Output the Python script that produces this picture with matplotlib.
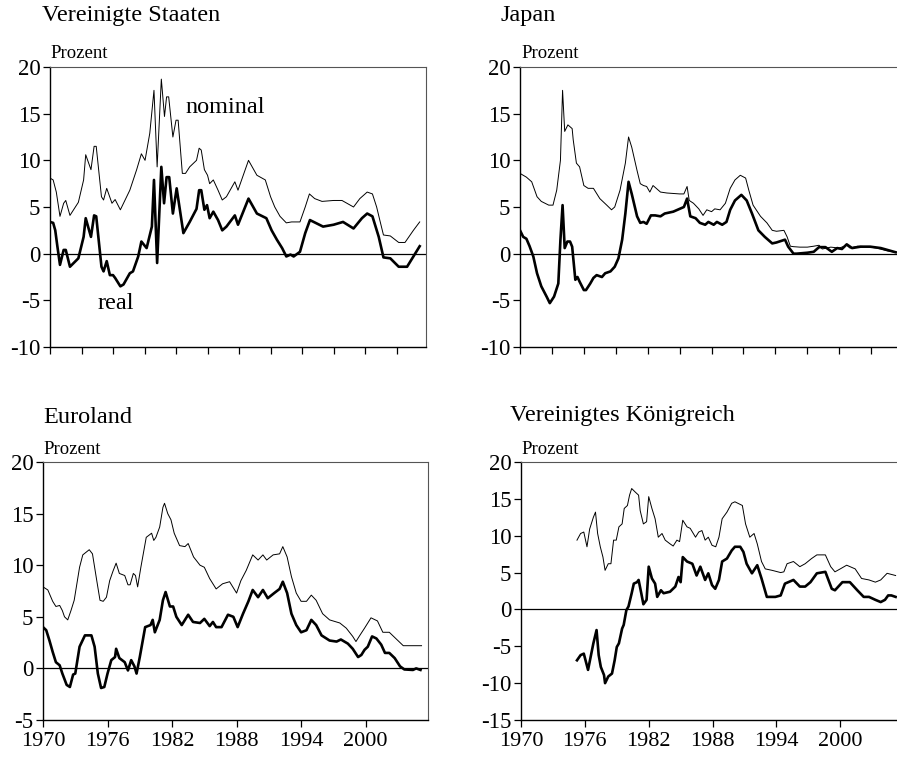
import matplotlib
matplotlib.use("Agg")
import matplotlib.pyplot as plt

plt.rcParams['font.family'] = ['Liberation Serif', 'DejaVu Serif']

# Vereinigte Staaten
us_nom_t = [1970.0, 1970.3, 1970.6, 1970.95, 1971.3, 1971.5, 1971.9, 1972.7, 1973.2, 1973.4, 1973.9,
            1974.2, 1974.4, 1974.9, 1975.1, 1975.4, 1975.9, 1976.2, 1976.7, 1977.6, 1978.25, 1978.7,
            1979.05, 1979.5, 1979.9, 1980.2, 1980.6, 1980.9, 1981.1, 1981.3, 1981.7, 1982.0, 1982.2,
            1982.6, 1982.9, 1983.3, 1983.95, 1984.2, 1984.4, 1984.7, 1985.0, 1985.2, 1985.55, 1986.0,
            1986.4, 1986.8, 1987.6, 1987.9, 1988.9, 1989.7, 1990.5, 1991.0, 1991.4, 1991.9, 1992.5,
            1993.0, 1993.8, 1994.3, 1994.7, 1995.2, 1995.9, 1997.0, 1997.8, 1998.9, 1999.5, 2000.2,
            2000.7, 2001.1, 2001.4, 2001.75, 2002.4, 2003.2, 2003.8, 2004.6, 2005.2]
us_nom = [8.1, 7.9, 6.6, 4.0, 5.4, 5.7, 4.1, 5.5, 7.9, 10.6, 9.0,
          11.5, 11.5, 6.1, 5.75, 7.0, 5.4, 5.8, 4.7, 6.8, 9.0, 10.7,
          10.0, 12.9, 17.5, 9.3, 18.7, 14.7, 16.8, 16.8, 12.5, 14.3, 14.3,
          8.6, 8.6, 9.3, 10.0, 11.3, 11.1, 9.0, 8.4, 7.5, 7.9, 6.8,
          5.75, 6.1, 7.7, 6.8, 10.0, 8.4, 7.9, 6.1, 5.0, 4.0, 3.3,
          3.4, 3.4, 5.0, 6.4, 5.9, 5.6, 5.7, 5.7, 5.0, 5.9, 6.6,
          6.4, 5.0, 3.6, 2.0, 1.9, 1.2, 1.2, 2.5, 3.4]
us_real_t = [1970.0, 1970.3, 1970.5, 1970.7, 1970.95, 1971.3, 1971.5, 1971.9, 1972.7, 1973.2, 1973.4,
             1973.9, 1974.2, 1974.4, 1974.9, 1975.1, 1975.4, 1975.7, 1976.0, 1976.2, 1976.7, 1977.0,
             1977.6, 1977.9, 1978.4, 1978.7, 1979.2, 1979.7, 1979.9, 1980.2, 1980.6, 1980.86, 1981.1,
             1981.35, 1981.7, 1982.06, 1982.7, 1983.3, 1983.95, 1984.2, 1984.4, 1984.7, 1984.95, 1985.2,
             1985.55, 1986.0, 1986.4, 1986.8, 1987.6, 1987.9, 1988.9, 1989.7, 1990.6, 1991.1, 1991.6,
             1992.1, 1992.5, 1992.9, 1993.2, 1993.8, 1994.3, 1994.75, 1996.0, 1997.0, 1997.9, 1998.9,
             1999.7, 2000.2, 2000.7, 2001.3, 2001.75, 2002.4, 2003.2, 2004.0, 2004.6, 2005.2]
us_real = [3.4, 3.3, 2.5, 0.8, -1.2, 0.4, 0.4, -1.4, -0.5, 1.8, 3.8,
           1.8, 4.1, 4.0, -1.4, -1.9, -0.8, -2.3, -2.3, -2.6, -3.5, -3.3,
           -2.1, -1.9, -0.3, 1.3, 0.6, 2.9, 7.9, -1.0, 9.3, 5.4, 8.2,
           8.2, 4.3, 7.0, 2.2, 3.4, 4.8, 6.8, 6.8, 4.7, 5.2, 3.8,
           4.5, 3.6, 2.5, 2.9, 4.1, 3.1, 5.9, 4.3, 3.8, 2.5, 1.5,
           0.6, -0.3, -0.1, -0.3, 0.2, 2.2, 3.6, 2.9, 3.1, 3.4, 2.7,
           3.8, 4.3, 4.0, 1.8, -0.4, -0.5, -1.4, -1.4, -0.3, 0.8]

# Japan
jp_nom_t = [1970.0, 1970.3, 1970.6, 1971.1, 1971.6, 1972.0, 1972.7, 1973.1, 1973.45, 1973.8, 1974.0,
            1974.2, 1974.5, 1974.9, 1975.0, 1975.3, 1975.6, 1976.0, 1976.4, 1976.9, 1977.5, 1978.15,
            1978.6, 1978.9, 1979.4, 1979.9, 1980.2, 1980.5, 1981.0, 1981.3, 1981.6, 1981.9, 1982.2,
            1982.5, 1983.2, 1983.8, 1985.0, 1985.4, 1985.7, 1985.9, 1986.3, 1986.8, 1987.2, 1987.55,
            1988.0, 1988.3, 1988.8, 1989.3, 1989.75, 1990.2, 1990.7, 1991.2, 1991.5, 1991.9, 1992.6,
            1993.2, 1993.7, 1994.1, 1994.8, 1995.1, 1995.4, 1995.7, 1996.3, 1997.0, 1997.6, 1998.1,
            1998.4, 1999.2, 2000.0, 2000.7, 2001.0, 2001.7, 2002.6, 2003.5, 2004.5, 2005.3]
jp_nom = [8.6, 8.4, 8.2, 7.7, 6.1, 5.6, 5.2, 5.2, 6.8, 10.0, 17.5,
          13.1, 13.8, 13.4, 12.2, 9.7, 9.3, 7.3, 7.0, 7.0, 5.9, 5.2,
          4.7, 5.0, 6.8, 9.7, 12.5, 11.4, 8.9, 7.5, 7.3, 7.2, 6.6,
          7.3, 6.6, 6.5, 6.4, 6.4, 7.2, 5.7, 5.4, 4.8, 4.1, 4.7,
          4.5, 4.8, 4.7, 5.4, 7.0, 7.9, 8.4, 8.1, 6.8, 5.2, 4.0,
          3.3, 2.5, 2.4, 2.5, 1.8, 0.8, 0.75, 0.7, 0.7, 0.8, 0.9,
          0.5, 0.7, 0.6, 0.9, 0.6, 0.8, 0.75, 0.6, 0.3, 0.15]
jp_real_t = [1970.0, 1970.3, 1970.6, 1970.9, 1971.25, 1971.6, 1972.0, 1972.5, 1972.8, 1973.2, 1973.6,
             1973.8, 1974.0, 1974.2, 1974.45, 1974.7, 1974.9, 1975.2, 1975.4, 1975.6, 1976.0, 1976.2,
             1976.6, 1976.9, 1977.2, 1977.7, 1978.0, 1978.5, 1978.9, 1979.25, 1979.6, 1979.9, 1980.2,
             1980.5, 1981.0, 1981.3, 1981.6, 1981.9, 1982.3, 1982.7, 1983.2, 1983.6, 1984.4, 1985.0,
             1985.4, 1985.7, 1986.0, 1986.5, 1986.9, 1987.4, 1987.7, 1988.2, 1988.5, 1989.0, 1989.4,
             1989.75, 1990.2, 1990.8, 1991.3, 1991.8, 1992.4, 1993.0, 1993.7, 1994.1, 1994.9, 1995.2,
             1995.7, 1996.0, 1997.0, 1997.6, 1998.1, 1998.7, 1999.3, 1999.8, 2000.25, 2000.7, 2001.2,
             2002.0, 2002.9, 2003.9, 2005.3]
jp_real = [2.5, 1.8, 1.6, 0.8, -0.3, -2.1, -3.5, -4.6, -5.3, -4.6, -3.2,
           1.5, 5.2, 0.6, 1.3, 1.3, 0.75, -2.8, -2.5, -3.0, -3.9, -3.9,
           -3.2, -2.6, -2.3, -2.5, -2.1, -1.9, -1.4, -0.5, 1.5, 4.3, 7.7,
           6.4, 4.0, 3.3, 3.4, 3.2, 4.1, 4.1, 4.0, 4.3, 4.5, 4.8,
           5.0, 5.9, 4.0, 3.8, 3.3, 3.1, 3.4, 3.1, 3.4, 3.1, 3.4,
           4.7, 5.7, 6.3, 5.7, 4.3, 2.5, 1.8, 1.1, 1.2, 1.5, 0.75,
           0.0, 0.0, 0.1, 0.2, 0.7, 0.7, 0.2, 0.6, 0.5, 1.0, 0.6,
           0.75, 0.75, 0.6, 0.15]

# Euroland
eu_nom_t = [1970.0, 1970.45, 1970.9, 1971.2, 1971.55, 1971.8, 1972.0, 1972.3, 1972.6, 1972.9, 1973.4,
            1973.7, 1974.3, 1974.6, 1975.0, 1975.3, 1975.6, 1975.9, 1976.2, 1976.5, 1976.8, 1977.1,
            1977.6, 1977.9, 1978.1, 1978.4, 1978.6, 1978.8, 1979.1, 1979.6, 1980.1, 1980.3, 1980.5,
            1980.85, 1981.15, 1981.3, 1981.6, 1981.9, 1982.2, 1982.7, 1983.2, 1983.5, 1984.0, 1984.6,
            1985.0, 1985.5, 1986.1, 1986.7, 1987.35, 1988.0, 1988.4, 1988.9, 1989.5, 1990.0, 1990.45,
            1990.8, 1991.4, 1992.0, 1992.3, 1992.7, 1993.1, 1993.55, 1994.0, 1994.5, 1994.95, 1995.4,
            1996.0, 1996.65, 1997.6, 1998.2, 1998.8, 1999.1, 1999.4, 1999.9, 2000.5, 2001.1, 2001.6,
            2002.2, 2002.8, 2003.5, 2004.4, 2005.2]
eu_nom = [7.9, 7.6, 6.5, 6.0, 6.1, 5.6, 5.0, 4.7, 5.6, 6.6, 9.8,
          11.0, 11.5, 11.1, 8.5, 6.6, 6.5, 6.9, 8.5, 9.4, 10.2, 9.2,
          9.0, 8.1, 8.1, 9.2, 9.0, 7.9, 9.8, 12.7, 13.1, 12.4, 12.7,
          13.7, 15.6, 16.0, 15.0, 14.4, 13.1, 11.9, 11.8, 12.1, 10.8, 10.0,
          9.8, 8.7, 7.7, 8.2, 8.4, 7.3, 8.5, 9.5, 11.0, 10.5, 11.0,
          10.5, 11.0, 11.1, 11.8, 10.8, 8.9, 7.3, 6.5, 6.5, 7.1, 6.6,
          5.3, 4.7, 4.4, 3.9, 3.1, 2.6, 3.1, 3.9, 4.9, 4.6, 3.5,
          3.5, 2.9, 2.2, 2.2, 2.2]
eu_real_t = [1970.0, 1970.3, 1970.6, 1970.9, 1971.2, 1971.55, 1971.8, 1972.2, 1972.5, 1972.8, 1973.0,
             1973.4, 1973.9, 1974.5, 1974.8, 1975.1, 1975.4, 1975.7, 1976.0, 1976.35, 1976.7, 1976.8,
             1977.1, 1977.6, 1977.9, 1978.2, 1978.5, 1978.7, 1979.0, 1979.5, 1980.0, 1980.2, 1980.4,
             1980.85, 1981.15, 1981.4, 1981.8, 1982.1, 1982.4, 1982.9, 1983.5, 1983.95, 1984.6, 1985.0,
             1985.5, 1985.8, 1986.1, 1986.6, 1987.2, 1987.7, 1988.1, 1988.6, 1989.1, 1989.5, 1990.0,
             1990.45, 1990.9, 1991.5, 1992.0, 1992.3, 1992.7, 1993.1, 1993.55, 1994.0, 1994.5, 1994.95,
             1995.4, 1995.9, 1996.65, 1997.3, 1997.7, 1998.35, 1998.8, 1999.3, 1999.6, 1999.9, 2000.2,
             2000.6, 2001.0, 2001.45, 2001.8, 2002.2, 2002.7, 2003.2, 2003.6, 2004.4, 2004.7, 2005.1]
eu_real = [4.0, 3.7, 2.7, 1.6, 0.6, 0.3, -0.5, -1.6, -1.8, -0.6, -0.5,
           2.1, 3.2, 3.2, 2.1, -0.5, -1.9, -1.8, -0.5, 0.8, 1.1, 1.9,
           1.0, 0.6, -0.2, 0.8, 0.2, -0.5, 1.1, 4.0, 4.2, 4.7, 3.5,
           4.7, 6.6, 7.4, 6.0, 6.0, 5.0, 4.2, 5.2, 4.5, 4.4, 4.8,
           4.1, 4.5, 4.0, 4.0, 5.2, 5.0, 4.0, 5.3, 6.5, 7.6, 6.9,
           7.6, 6.8, 7.3, 7.7, 8.4, 7.3, 5.3, 4.2, 3.5, 3.7, 4.7,
           4.2, 3.2, 2.7, 2.6, 2.8, 2.4, 1.9, 1.1, 1.3, 1.8, 2.1,
           3.1, 2.9, 2.3, 1.5, 1.5, 1.0, 0.2, -0.1, -0.15, 0.0, -0.15]

# Vereinigtes Königreich
uk_nom_t = [1975.26, 1975.6, 1975.9, 1976.2, 1976.45, 1976.8, 1977.0, 1977.2, 1977.45, 1977.7, 1977.9,
            1978.2, 1978.45, 1978.7, 1978.95, 1979.2, 1979.5, 1979.7, 1980.0, 1980.2, 1980.4, 1980.75,
            1981.05, 1981.2, 1981.5, 1981.8, 1982.0, 1982.3, 1982.6, 1982.9, 1983.25, 1983.55, 1984.0,
            1984.3, 1984.65, 1984.9, 1985.2, 1985.6, 1985.9, 1986.4, 1986.7, 1987.0, 1987.3, 1987.6,
            1987.95, 1988.3, 1988.6, 1988.9, 1989.35, 1989.8, 1990.1, 1990.8, 1991.1, 1991.5, 1991.9,
            1992.2, 1992.6, 1992.95, 1993.6, 1994.4, 1994.7, 1995.0, 1995.6, 1996.2, 1996.7, 1997.3,
            1997.8, 1998.6, 1999.1, 1999.5, 2000.0, 2000.6, 2001.4, 2002.0, 2002.7, 2003.3, 2003.8,
            2004.4, 2005.2]
uk_nom = [9.4, 10.3, 10.5, 8.5, 10.9, 12.5, 13.2, 10.3, 8.5, 7.1, 5.3,
          6.2, 6.2, 9.4, 9.4, 11.2, 11.6, 13.7, 14.1, 15.5, 16.4, 15.9,
          15.5, 13.4, 11.6, 11.9, 15.3, 13.7, 12.3, 9.8, 10.3, 9.4, 8.9,
          8.6, 9.4, 9.2, 12.1, 11.2, 11.0, 9.8, 10.5, 10.7, 9.4, 9.8,
          8.7, 8.5, 9.8, 12.3, 13.2, 14.4, 14.6, 14.1, 11.6, 9.8, 10.3,
          8.9, 6.5, 5.5, 5.3, 5.0, 5.1, 6.2, 6.5, 5.8, 6.2, 6.9,
          7.4, 7.4, 5.8, 5.1, 5.5, 6.0, 5.5, 4.2, 4.0, 3.7, 4.0,
          4.9, 4.6]
uk_real_t = [1975.26, 1975.6, 1975.9, 1976.3, 1976.55, 1976.8, 1977.1, 1977.3, 1977.5, 1977.8, 1977.9,
             1978.2, 1978.55, 1978.8, 1979.0, 1979.2, 1979.5, 1979.65, 1979.9, 1980.1, 1980.4, 1980.6,
             1980.9, 1981.05, 1981.3, 1981.5, 1981.8, 1982.0, 1982.3, 1982.6, 1982.8, 1983.15, 1983.4,
             1984.0, 1984.5, 1984.8, 1985.0, 1985.2, 1985.6, 1986.1, 1986.5, 1986.85, 1987.3, 1987.6,
             1987.95, 1988.25, 1988.6, 1988.9, 1989.35, 1989.8, 1990.1, 1990.6, 1990.9, 1991.2, 1991.7,
             1992.2, 1992.6, 1993.1, 1993.9, 1994.4, 1994.8, 1995.6, 1996.2, 1996.7, 1997.2, 1997.8,
             1998.6, 1999.2, 1999.5, 2000.2, 2000.9, 2001.6, 2002.2, 2002.7, 2003.3, 2003.8, 2004.2,
             2004.5, 2004.8, 2005.2]
uk_real = [-6.9, -6.2, -6.0, -8.2, -6.4, -4.6, -2.8, -6.2, -7.8, -8.9, -10.0,
           -9.1, -8.7, -6.9, -5.1, -4.6, -2.6, -2.1, -0.1, 0.4, 2.2, 3.5,
           3.7, 4.0, 2.2, 0.7, 1.3, 5.8, 4.2, 3.5, 1.7, 2.6, 2.2,
           2.4, 3.1, 4.4, 3.7, 7.1, 6.5, 6.2, 4.6, 5.8, 4.0, 4.9,
           3.3, 2.8, 4.0, 6.5, 6.9, 8.0, 8.5, 8.5, 7.8, 6.2, 4.9,
           6.0, 4.2, 1.7, 1.7, 1.9, 3.5, 4.0, 3.1, 3.1, 3.7, 4.9,
           5.1, 2.8, 2.6, 3.7, 3.7, 2.6, 1.7, 1.7, 1.3, 1.0, 1.3,
           1.9, 1.9, 1.7]

titles = ["Vereinigte Staaten", "Japan", "Euroland", "Vereinigtes Königreich"]
ylims = [(-10, 20), (-10, 20), (-5, 20), (-15, 20)]

W, H = 897.0, 758.0
fig = plt.figure(figsize=(8.97, 7.58), dpi=100)


def add_px_axes(left, top, right, bottom):
    # pixel box -> figure fraction
    return fig.add_axes([left / W, 1 - bottom / H, (right - left) / W, (bottom - top) / H])


ax_us = add_px_axes(50, 67, 426, 347)
ax_jp = add_px_axes(520, 67, 901, 347)
ax_eu = add_px_axes(43, 462, 428, 720)
ax_uk = add_px_axes(521, 462, 902, 720)
axes = [ax_us, ax_jp, ax_eu, ax_uk]
series = [(us_nom_t, us_nom, us_real_t, us_real),
          (jp_nom_t, jp_nom, jp_real_t, jp_real),
          (eu_nom_t, eu_nom, eu_real_t, eu_real),
          (uk_nom_t, uk_nom, uk_real_t, uk_real)]

for i, ax in enumerate(axes):
    nt, nv, rt, rv = series[i]
    ax.axhline(0, color="black", lw=0.9, zorder=1)
    ax.plot(nt, nv, color="black", lw=0.7, zorder=2)
    ax.plot(rt, rv, color="black", lw=1.9, zorder=3)
    ax.set_xlim(1970, 2005.8)
    lo, hi = ylims[i]
    ax.set_ylim(lo, hi)
    yt = list(range(lo, hi + 1, 5))
    ax.set_yticks(yt)
    ax.set_yticklabels([str(v) for v in yt], fontsize=16.5)
    if i < 2:
        ax.set_xticks(list(range(1970, 2005, 3)))
        ax.set_xticklabels([])
    else:
        xt = list(range(1970, 2005, 6))
        ax.set_xticks(xt)
        ax.set_xticklabels([str(v) for v in xt], fontsize=16)
    ax.tick_params(axis="y", direction="out", length=5, width=0.9, pad=2, right=False)
    ax.tick_params(axis="x", direction="out", length=5, width=0.9, pad=4, top=False)
    ax.spines["left"].set_linewidth(1.0)
    ax.spines["bottom"].set_linewidth(1.0)
    for s in ["top", "right"]:
        ax.spines[s].set_linewidth(0.8)
        ax.spines[s].set_color("#555555")

# titles and unit labels
fig.text(42 / W, 1 - 15 / H, titles[0], fontsize=17.5, va="center")
fig.text(500 / W, 1 - 15 / H, titles[1], fontsize=17.5, va="center")
fig.text(43 / W, 1 - 417 / H, titles[2], fontsize=17.5, va="center")
fig.text(510 / W, 1 - 415 / H, titles[3], fontsize=17.5, va="center")
for x, y in [(50, 53), (521, 53), (43, 449), (521, 449)]:
    fig.text(x / W, 1 - y / H, "Prozent", fontsize=13.5, va="center")

ax_us.text(1986.7, 15.7, "nominal", fontsize=17.5, ha="center", va="center")
ax_us.text(1976.3, -5.3, "real", fontsize=17.5, ha="center", va="center")

fig.savefig("out.png", dpi=100)
